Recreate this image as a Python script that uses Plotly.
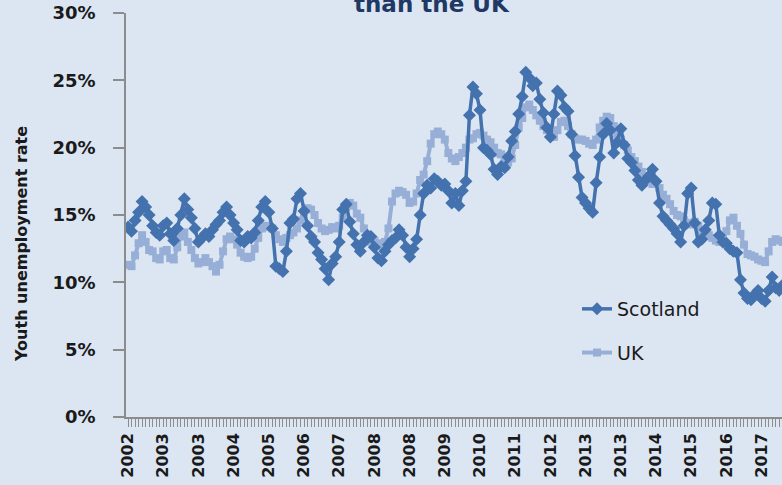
import plotly.graph_objects as go
import pandas as pd

# ---- data (youth unemployment rate, %, monthly rolling quarters from Mar 2002) ----
scotland = [
    14.1, 13.8, 14.6, 15.2, 16.0, 15.6, 15.0, 14.2, 13.7, 13.5, 14.2,
    14.4, 13.6, 13.1, 14.0, 15.0, 16.2, 15.4, 14.8, 14.0, 13.0,
    13.3, 13.6, 13.4, 13.9, 14.3, 14.6, 15.2, 15.6, 15.0, 14.4,
    13.9, 13.1, 13.0, 13.4, 13.3, 13.7, 14.6, 15.6, 16.0, 15.2,
    14.0, 11.2, 11.0, 10.8, 12.3, 14.4, 14.7, 16.2, 16.6, 15.3,
    14.2, 13.4, 13.0, 12.2, 11.7, 11.0, 10.2, 11.4, 11.9, 13.0,
    15.4, 15.8, 14.5, 13.6, 12.8, 12.3, 13.0, 13.5, 13.4, 12.6,
    11.8, 11.6, 12.3, 12.8, 13.1, 13.3, 13.9, 13.5, 12.6, 11.9,
    12.5, 13.2, 15.0, 16.6, 17.2, 17.0, 17.7, 17.5, 17.2, 17.3,
    16.8, 15.9, 16.6, 15.7, 16.8, 17.5, 22.4, 24.5, 24.0, 22.8,
    20.0, 19.8, 19.5, 18.4, 18.0, 18.6, 18.5, 19.3, 20.5, 21.2,
    22.5, 23.8, 25.6, 25.2, 24.6, 24.8, 23.6, 22.6, 21.5, 20.8,
    22.5, 24.2, 23.9, 23.0, 22.7, 21.0, 19.4, 17.8, 16.3, 15.9,
    15.5, 15.2, 17.4, 19.3, 21.0, 21.8, 21.3, 19.6, 20.4, 21.4,
    20.2, 19.2, 18.9, 18.3, 17.6, 17.2, 17.6, 17.9, 18.4, 17.5,
    15.9, 14.9, 14.6, 14.3, 14.0, 13.6, 13.0, 14.2, 16.6, 17.0,
    14.4, 13.0, 13.2, 13.9, 14.6, 15.9, 15.8, 13.5, 13.0, 12.9,
    12.5, 12.3, 12.2, 10.2, 9.2, 8.8, 8.7, 9.1, 9.4, 8.8,
    8.6, 9.4, 10.4, 9.6, 9.4, 9.8,
]
uk = [
    11.3, 11.2, 12.0, 12.9, 13.5, 13.0, 12.4, 12.3, 11.8, 11.7, 12.3,
    12.4, 11.8, 11.7, 12.6, 13.4, 13.7, 13.0, 12.4, 11.8, 11.4,
    11.5, 11.8, 11.5, 11.2, 10.8, 11.3, 12.3, 13.2, 13.4, 13.2,
    12.8, 12.2, 11.9, 11.8, 11.9, 12.5, 13.3, 14.0, 14.2, 14.1,
    14.0, 13.5, 13.2, 13.0, 13.3, 13.5, 13.7, 14.0, 14.6, 15.2,
    15.5, 15.4, 15.0, 14.4, 14.0, 13.8, 13.9, 14.1, 14.0, 14.2,
    14.8, 15.6, 15.9, 15.7, 15.1, 14.8, 14.0, 13.2, 13.0, 13.1,
    12.9, 12.7, 13.0, 14.0, 16.0, 16.6, 16.8, 16.7, 16.5, 15.9,
    16.0, 16.6, 17.6, 18.0, 19.0, 20.3, 21.0, 21.2, 21.0, 20.6,
    19.6, 19.2, 19.0, 19.3, 19.6, 20.0, 20.6, 20.7, 21.0, 21.1,
    20.9, 20.6, 20.4, 20.0, 19.6, 19.5, 19.2, 18.9, 19.2, 20.2,
    21.5, 22.2, 23.0, 23.2, 22.8, 22.4, 22.0, 21.6, 21.3, 21.0,
    20.8, 21.3, 21.9, 22.0, 21.6, 21.0, 20.7, 20.6, 20.6, 20.5,
    20.3, 20.2, 20.6, 21.5, 22.0, 22.3, 22.2, 21.6, 21.0, 20.6,
    20.2, 19.8, 19.3, 19.0, 18.6, 18.2, 17.9, 17.5, 17.3, 17.4,
    17.0, 16.5, 16.2, 15.8, 15.3, 15.0, 14.9, 14.6, 14.4, 14.3,
    14.5, 14.2, 13.8, 13.6, 13.5, 13.3, 13.1, 13.0, 13.2, 13.8,
    14.6, 14.8, 14.2, 13.6, 12.8, 12.1, 12.0, 11.9, 11.7, 11.6,
    11.5, 12.3, 13.0, 13.2, 13.1, 13.0,
]
months = list(pd.date_range("2002-03-01", periods=len(scotland), freq="MS").strftime("%b %Y"))
tick_years = ["2002", "2003", "2003", "2004", "2005", "2006", "2007", "2008", "2008", "2009",
              "2010", "2011", "2012", "2013", "2013", "2014", "2015", "2016", "2017"]
label_step = 10
y_ticks = [0, 5, 10, 15, 20, 25, 30]

BG = "#DCE6F2"
SCOT = "#4472AE"
UKC = "#97AFD6"
AXIS = "#8C8C8C"

tick_text = []
for k, m in enumerate(months):
    if k % label_step == 0 and k // label_step < len(tick_years):
        tick_text.append(tick_years[k // label_step])
    else:
        tick_text.append("")

fig = go.Figure()
fig.add_trace(go.Scatter(
    x=months, y=uk, name="UK", mode="lines+markers",
    line=dict(color=UKC, width=4), marker=dict(symbol="square", size=8, color=UKC),
    legendgroup="uk", legendrank=2,
))
fig.add_trace(go.Scatter(
    x=months, y=scotland, name="Scotland", mode="lines+markers",
    line=dict(color=SCOT, width=3.5), marker=dict(symbol="diamond", size=10, color=SCOT),
    legendgroup="scot", legendrank=1,
))

fig.update_layout(
    width=782, height=485,
    margin=dict(l=126, r=0, t=13, b=68),
    paper_bgcolor=BG, plot_bgcolor=BG,
    font=dict(family="DejaVu Sans", color="#1A1A1A"),
    showlegend=True,
    legend=dict(
        x=(577 - 126) / 656, y=1 - (290 - 13) / 404, xanchor="left", yanchor="top",
        bgcolor="rgba(0,0,0,0)", font=dict(size=19, color="#1A1A1A"),
        tracegroupgap=16,
    ),
    annotations=[
        dict(text="<b>than the UK</b>", xref="paper", yref="paper",
             x=(432 - 126) / 656, y=1 + 9 / 404, xanchor="center", yanchor="middle",
             showarrow=False, font=dict(size=23, color="#1F3864")),
        dict(text="<b>Youth unemployment rate</b>", xref="paper", yref="paper",
             x=(22 - 126) / 656, y=1 - (244 - 13) / 404, xanchor="center", yanchor="middle",
             textangle=-90, showarrow=False, font=dict(size=16, color="#1A1A1A")),
    ],
)
fig.update_xaxes(
    type="category", range=[-0.57, 185.8],
    tickmode="array", tickvals=months, ticktext=tick_text,
    tickangle=-90, ticks="outside", ticklen=8, tickcolor=AXIS, tickwidth=1,
    showline=True, linecolor=AXIS, linewidth=1.5, showgrid=False, zeroline=False,
    tickfont=dict(size=16, family="DejaVu Sans", weight="bold", color="#1A1A1A"),
    automargin=False,
)
fig.update_yaxes(
    range=[0, 30], tickmode="array", tickvals=y_ticks,
    ticktext=[f"{v}%" for v in y_ticks],
    ticks="outside", ticklen=11, tickcolor=AXIS, tickwidth=1.5,
    showline=True, linecolor=AXIS, linewidth=1.5, showgrid=False, zeroline=False,
    tickfont=dict(size=18, family="DejaVu Sans", weight="bold", color="#1A1A1A"),
    ticklabelstandoff=14, automargin=False,
)

fig.write_html(
    "out.html",
    config={"displayModeBar": False},
    post_script="document.body.style.margin='0';document.body.style.overflow='hidden';"
                "document.body.style.background='" + BG + "';",
)
